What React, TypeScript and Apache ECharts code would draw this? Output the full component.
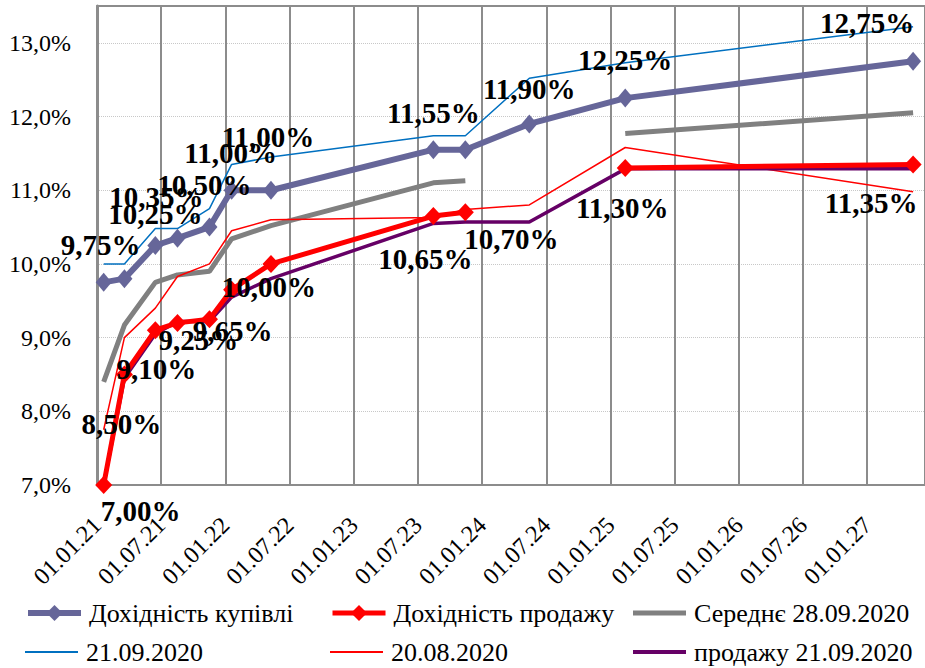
import React, { useEffect, useRef } from 'react';
import * as echarts from 'echarts';

// Dates of the points (maturities)
const dates = [
  '2021-01-20', '2021-03-20', '2021-06-16', '2021-08-18', '2021-11-17', '2022-01-19',
  '2022-05-11', '2023-08-16', '2023-11-15', '2024-05-15', '2025-02-12', '2027-05-12',
];

// Series values (%), null = no point
const buyYield = [9.75, 9.8, 10.25, 10.35, 10.5, 11.0, 11.0, 11.55, 11.55, 11.9, 12.25, 12.75];
const sellYield = [7.0, 8.5, 9.1, 9.2, 9.25, 9.65, 10.0, 10.65, 10.7, null, 11.3, 11.35];
const avg2809 = [8.4, 9.17, 9.75, 9.85, 9.9, 10.34, 10.52, 11.1, 11.13, null, 11.77, 12.05];
const buy2109 = [10.0, 10.0, 10.48, 10.48, 10.75, 11.35, 11.45, 11.74, 11.74, 12.52, 12.73, 13.22];
const buy2008 = [7.75, 9.0, 9.4, 9.83, 10.0, 10.45, 10.6, 10.63, 10.74, 10.8, 11.58, 10.98];
const sell2109 = [7.0, 8.45, 9.05, 9.22, 9.22, 9.55, 9.8, 10.55, 10.57, 10.57, 11.29, 11.29];

const seriesNames = [
  'Дохідність купівлі', 'Дохідність продажу', 'Середнє 28.09.2020',
  '21.09.2020', '20.08.2020', 'продажу 21.09.2020',
];

// Axis settings
const yMin = 7;
const yMax = 13.5;
const yStep = 1;
const xStepYears = 0.5;
const xMaxYears = 6.45;

// Label placement offsets (pixels) for shown data labels; null = no label
const buyLabelOffsets: ([number, number] | null)[] = [
  [-3, -37], null, [0, -32], [-21, -41], [-5, -42], [-1, -37], [-3, -53],
  [0, -37], null, [0, -35], [0, -38], [-46, -38],
];
const sellLabelOffsets: ([number, number] | null)[] = [
  [37, 26], [-3, 50], [1, 39], null, [-11, 21], [1, 41], [-2, 23],
  [-8, 43], [46, 27], null, [-3, 40], [-42, 39],
];

const FONT = 'Liberation Serif';
const ORIGIN = Date.UTC(2021, 0, 1);
const YEAR_MS = 365.25 * 86400000;

function toYears(s: string) {
  const [y, m, d] = s.split('-').map(Number);
  return (Date.UTC(y, m - 1, d) - ORIGIN) / YEAR_MS;
}
const pct2 = (v: number) => v.toFixed(2).replace('.', ',') + '%';

function build(values: (number | null)[], offsets?: ([number, number] | null)[]) {
  return dates.map((d, i) => {
    const v = values[i];
    const x = toYears(d);
    if (v == null) return { value: [x, '-'] };
    const off = offsets ? offsets[i] : null;
    if (!off) return { value: [x, v] };
    return {
      value: [x, v],
      label: {
        show: true,
        position: 'inside',
        offset: off,
        formatter: (p: any) => pct2(p.value[1]),
        fontSize: 29,
        fontWeight: 'bold',
        fontFamily: FONT,
        color: '#000',
      },
    };
  });
}

export default function App() {
  const ref = useRef<HTMLDivElement>(null);
  useEffect(() => {
    document.body.style.margin = '0';
    if (!ref.current) return;
    const chart = echarts.init(ref.current, undefined, { renderer: 'svg' });
    const legendPos = [
      [25, 600], [330, 600], [633, 600],
      [25, 639], [330, 639], [633, 639],
    ];
    const legendBar: (number | null)[] = [null, null, 5, 2, 2, 4];
    const legendLineW = [6, 5, 0, 0, 0, 0];
    const option: any = {
      animation: false,
      backgroundColor: '#fff',
      textStyle: { fontFamily: FONT },
      grid: { left: 97, top: 6, width: 833, height: 479 },
      legend: seriesNames.map((n, i) => {
        const bar = legendBar[i];
        const base: any = {
          data: [n],
          left: legendPos[i][0],
          top: legendPos[i][1],
          padding: 0,
          itemWidth: 53,
          selectedMode: false,
          textStyle: { fontSize: 26, fontFamily: FONT, color: '#000', padding: [0, 0, 0, 3], lineHeight: 26 },
        };
        if (bar == null) {
          base.itemHeight = 20;
          base.lineStyle = { width: legendLineW[i] };
        } else {
          base.icon = 'rect';
          base.itemHeight = bar;
        }
        return base;
      }),
      xAxis: [
        {
          type: 'value', min: 0, max: xMaxYears, interval: xStepYears,
          axisLine: { show: true, lineStyle: { color: '#8c8c8c', width: 2 } },
          axisTick: { show: false },
          splitLine: { show: true, lineStyle: { color: '#8c8c8c', width: 2 } },
          axisLabel: {
            rotate: 45, margin: 36, fontSize: 24, fontFamily: FONT, color: '#000', showMaxLabel: false,
            formatter: (v: number) => {
              const k = Math.round(v / xStepYears);
              if (Math.abs(k * xStepYears - v) > 1e-6) return '';
              const yr = 21 + Math.floor(k / 2);
              const mo = k % 2 === 0 ? '01' : '07';
              return '01.' + mo + '.' + yr;
            },
          },
        },
        {
          type: 'value', position: 'top', min: 0, max: xMaxYears,
          axisLine: { show: true, lineStyle: { color: '#8c8c8c', width: 2 } },
          axisTick: { show: false }, axisLabel: { show: false }, splitLine: { show: false },
        },
      ],
      yAxis: {
        type: 'value', min: yMin, max: yMax, interval: yStep,
        axisLine: { show: true, lineStyle: { color: '#8c8c8c', width: 3 } },
        axisTick: { show: false },
        splitLine: { show: true, lineStyle: { color: '#c8c8c8', width: 1, type: 'dotted' } },
        axisLabel: {
          margin: 26, fontSize: 24, fontFamily: FONT, color: '#000', showMaxLabel: false,
          formatter: (v: number) =>
            Math.abs(v - Math.round(v)) > 1e-6 ? '' : v.toFixed(1).replace('.', ',') + '%',
        },
      },
      series: [
        {
          name: seriesNames[0], type: 'line', z: 6, data: build(buyYield, buyLabelOffsets),
          symbol: 'diamond', symbolSize: [16, 19],
          lineStyle: { width: 6, color: '#666699' }, itemStyle: { color: '#666699' }, label: { show: false },
        },
        {
          name: seriesNames[1], type: 'line', z: 5, data: build(sellYield, sellLabelOffsets),
          symbol: 'diamond', symbolSize: [17, 18],
          lineStyle: { width: 5, color: '#ff0000' }, itemStyle: { color: '#ff0000' }, label: { show: false },
        },
        {
          name: seriesNames[2], type: 'line', z: 2, data: build(avg2809), showSymbol: false, symbol: 'none',
          lineStyle: { width: 5, color: '#808080' }, itemStyle: { color: '#808080' },
        },
        {
          name: seriesNames[3], type: 'line', z: 3, data: build(buy2109), showSymbol: false, symbol: 'none',
          lineStyle: { width: 1.5, color: '#0070c0' }, itemStyle: { color: '#0070c0' },
        },
        {
          name: seriesNames[4], type: 'line', z: 3, data: build(buy2008), showSymbol: false, symbol: 'none',
          lineStyle: { width: 1.5, color: '#ff0000' }, itemStyle: { color: '#ff0000' },
        },
        {
          name: seriesNames[5], type: 'line', z: 4, data: build(sell2109), showSymbol: false, symbol: 'none',
          lineStyle: { width: 3.5, color: '#660066' }, itemStyle: { color: '#660066' },
        },
      ],
    };
    chart.setOption(option);
    return () => chart.dispose();
  }, []);
  return <div ref={ref} style={{ width: 925, height: 668 }} />;
}
